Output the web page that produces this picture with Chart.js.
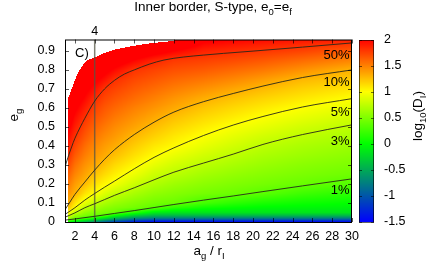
<!DOCTYPE html>
<html><head><meta charset="utf-8">
<script src="https://cdn.jsdelivr.net/npm/chart.js@4.4.1/dist/chart.umd.min.js"></script>
<style>html,body{margin:0;padding:0;background:#fff;}#wrap{width:436px;height:273px;}</style>
</head><body><div id="wrap"><canvas id="c" width="436" height="273"></canvas></div>
<script>
// ---- tick labels ----
const xTicks = [2,4,6,8,10,12,14,16,18,20,22,24,26,28,30];
const yTicks = [0,0.1,0.2,0.3,0.4,0.5,0.6,0.7,0.8,0.9];
const cbTicks = [-1.5,-1,-0.5,0,0.5,1,1.5,2];
const markerX = [4];

// ---- heat map grid: log10(D_I) ----
const gridX = [1.33, 2, 3, 4, 5, 6, 8, 10, 12, 15, 18, 21, 25, 30];
const gridY = [0, 0.01, 0.02, 0.035, 0.05, 0.075, 0.1, 0.15, 0.2, 0.25, 0.3, 0.35, 0.4, 0.45, 0.5, 0.55, 0.6, 0.65, 0.7, 0.75, 0.8, 0.85, 0.9, 0.93, 0.96];
const logD_x1_33 = [0.0, 0.36, 0.63, 0.88, 1.04, 1.23, 1.33, 1.43, 1.53, 1.62, 1.72, 1.82, 1.89, 1.97, 2.05, 2.13, 2.2, 2.28, null, null, null, null, null, null, null];
const logD_x2  = [-0.2, 0.18, 0.44, 0.61, 0.77, 1.0, 1.11, 1.31, 1.39, 1.48, 1.56, 1.65, 1.73, 1.81, 1.89, 1.96, 2.04, 2.11, 2.18, 2.26, null, null, null, null, null];
const logD_x3  = [-0.45, -0.08, 0.29, 0.48, 0.58, 0.75, 0.91, 1.11, 1.27, 1.36, 1.43, 1.51, 1.58, 1.66, 1.73, 1.81, 1.89, 1.98, 2.06, 2.14, 2.23, null, null, null, null];
const logD_x4  = [-0.7, -0.3, 0.1, 0.43, 0.51, 0.64, 0.77, 1.0, 1.12, 1.24, 1.34, 1.41, 1.47, 1.54, 1.61, 1.68, 1.75, 1.83, 1.94, 2.05, 2.16, 2.27, null, null, null];
const logD_x5  = [-0.95, -0.55, -0.15, 0.34, 0.46, 0.56, 0.67, 0.87, 1.03, 1.14, 1.24, 1.33, 1.39, 1.46, 1.53, 1.6, 1.66, 1.73, 1.8, 1.94, 2.07, 2.21, null, null, null];
const logD_x6  = [-1.15, -0.75, -0.4, 0.05, 0.42, 0.51, 0.6, 0.78, 0.95, 1.06, 1.15, 1.25, 1.33, 1.4, 1.46, 1.53, 1.6, 1.67, 1.74, 1.82, 1.97, 2.13, 2.28, null, null];
const logD_x8  = [-1.4, -1.0, -0.65, -0.25, 0.15, 0.45, 0.52, 0.66, 0.8, 0.93, 1.03, 1.12, 1.2, 1.28, 1.36, 1.43, 1.5, 1.58, 1.65, 1.72, 1.8, 1.99, 2.19, null, null];
const logD_x10 = [-1.5, -1.1, -0.75, -0.4, -0.1, 0.36, 0.45, 0.57, 0.69, 0.8, 0.91, 1.01, 1.09, 1.18, 1.26, 1.34, 1.42, 1.5, 1.58, 1.66, 1.74, 1.86, 2.1, 2.25, null];
const logD_x12 = [-1.5, -1.1, -0.75, -0.4, -0.15, 0.18, 0.42, 0.52, 0.62, 0.73, 0.82, 0.92, 1.02, 1.09, 1.17, 1.25, 1.34, 1.42, 1.51, 1.6, 1.69, 1.78, 2.0, 2.17, null];
const logD_x15 = [-1.5, -1.1, -0.75, -0.4, -0.15, 0.06, 0.27, 0.46, 0.55, 0.64, 0.73, 0.82, 0.91, 0.99, 1.07, 1.15, 1.23, 1.32, 1.43, 1.54, 1.65, 1.75, 1.87, 1.96, 2.05];
const logD_x18 = [-1.5, -1.1, -0.75, -0.4, -0.15, 0.01, 0.17, 0.42, 0.5, 0.58, 0.66, 0.74, 0.82, 0.9, 0.98, 1.07, 1.15, 1.24, 1.35, 1.47, 1.59, 1.71, 1.83, 1.91, 2.0];
const logD_x21 = [-1.5, -1.1, -0.75, -0.4, -0.15, -0.03, 0.1, 0.35, 0.46, 0.53, 0.6, 0.67, 0.74, 0.82, 0.91, 0.99, 1.08, 1.17, 1.27, 1.39, 1.53, 1.66, 1.79, 1.87, 1.97];
const logD_x25 = [-1.5, -1.1, -0.75, -0.4, -0.15, -0.05, 0.05, 0.24, 0.41, 0.48, 0.54, 0.61, 0.67, 0.74, 0.82, 0.91, 0.99, 1.09, 1.18, 1.28, 1.43, 1.58, 1.74, 1.83, 1.93];
const logD_x30 = [-1.5, -1.1, -0.75, -0.4, -0.15, -0.07, 0.01, 0.16, 0.32, 0.43, 0.49, 0.55, 0.61, 0.67, 0.74, 0.82, 0.91, 1.0, 1.1, 1.21, 1.3, 1.48, 1.65, 1.76, 1.9];
const logD = [logD_x1_33, logD_x2, logD_x3, logD_x4, logD_x5, logD_x6, logD_x8, logD_x10, logD_x12, logD_x15, logD_x18, logD_x21, logD_x25, logD_x30];

// upper edge of the computed region (white above)
const edgeX = [1.33, 1.5, 1.67, 2.0, 2.3, 2.7, 3.2, 4.1, 5.0, 6.0, 7.8, 9.8, 11.9, 12.3];
const edgeY = [0.655, 0.675, 0.70, 0.745, 0.785, 0.818, 0.849, 0.868, 0.89, 0.907, 0.926, 0.941, 0.952, 0.96];

// ---- contour lines ----
const c50X = [1, 1.3, 1.67, 2, 2.55, 3, 4, 5, 6, 7, 8, 9.5, 11, 13, 15, 17, 20, 25, 30];
const c50Y = [0.29, 0.34, 0.395, 0.44, 0.5, 0.545, 0.636, 0.70, 0.745, 0.778, 0.80, 0.83, 0.852, 0.868, 0.878, 0.887, 0.899, 0.92, 0.942];
const c10X = [1, 1.5, 2, 3, 4, 5, 6, 8, 10, 12, 15, 18, 21, 25, 30];
const c10Y = [0.065, 0.105, 0.145, 0.21, 0.273, 0.33, 0.38, 0.46, 0.525, 0.578, 0.633, 0.676, 0.715, 0.76, 0.80];
const c5X = [1, 2, 3, 4, 5, 6, 8, 10, 12, 15, 18, 21, 25, 30];
const c5Y = [0.04, 0.075, 0.115, 0.15, 0.183, 0.215, 0.28, 0.34, 0.39, 0.455, 0.51, 0.555, 0.605, 0.649];
const c3X = [1, 2, 3, 4, 5, 6, 8, 10, 12, 15, 18, 21, 25, 30];
const c3Y = [0.025, 0.048, 0.075, 0.096, 0.118, 0.14, 0.18, 0.222, 0.262, 0.31, 0.357, 0.408, 0.46, 0.511];
const c1X = [1, 2, 4, 6, 8, 10, 12, 15, 18, 21, 25, 30];
const c1Y = [0.01, 0.016, 0.03, 0.045, 0.06, 0.076, 0.092, 0.115, 0.137, 0.16, 0.19, 0.227];
const pctLabels = ['50%', '10%', '5%', '3%', '1%'];
const pctLabelY = [0.878, 0.735, 0.578, 0.426, 0.168];
const pctLabelX = 29.75;

// ---- palette ----
const cbStops = [-1.5, 0, 1, 2];
const cbColors = [[0,0,255],[0,255,0],[255,255,0],[255,0,0]];
const FILL = 2.3;

function palette(v){
  if (v <= cbStops[0]) return cbColors[0];
  if (v >= cbStops[cbStops.length-1]) return cbColors[cbColors.length-1];
  let k = 0; while (v > cbStops[k+1]) k++;
  const t = (v - cbStops[k]) / (cbStops[k+1] - cbStops[k]);
  const a = cbColors[k], b = cbColors[k+1];
  return [a[0]+(b[0]-a[0])*t, a[1]+(b[1]-a[1])*t, a[2]+(b[2]-a[2])*t];
}
function findIdx(arr, v){ let i = 0; while (i < arr.length-2 && v > arr[i+1]) i++; return i; }
function sample(xv, yv){
  const i = findIdx(gridX, xv), j = findIdx(gridY, yv);
  let tx = (xv-gridX[i])/(gridX[i+1]-gridX[i]); tx = Math.max(0, Math.min(1, tx));
  let ty = (yv-gridY[j])/(gridY[j+1]-gridY[j]); ty = Math.max(0, Math.min(1, ty));
  const g = (a, b) => { const v = logD[a][b]; return v == null ? FILL : v; };
  return (g(i,j)*(1-tx)+g(i+1,j)*tx)*(1-ty) + (g(i,j+1)*(1-tx)+g(i+1,j+1)*tx)*ty;
}
function edgeAt(xv){
  if (xv >= edgeX[edgeX.length-1]) return Infinity;
  const k = findIdx(edgeX, xv);
  const t = (xv-edgeX[k])/(edgeX[k+1]-edgeX[k]);
  return edgeY[k] + (edgeY[k+1]-edgeY[k])*t;
}

const FONT = '"Liberation Sans", Arial, Helvetica, sans-serif';
const BIG = 13.5, SUB = 9.5;
function richWidth(ctx, parts){
  let w = 0;
  for (const [t, sub] of parts){ ctx.font = (sub ? SUB : BIG) + 'px ' + FONT; w += ctx.measureText(t).width; }
  return w;
}
function drawRich(ctx, parts, x, y, align){
  const w = richWidth(ctx, parts);
  let cx = align === 'center' ? x - w/2 : (align === 'right' ? x - w : x);
  ctx.textAlign = 'left'; ctx.textBaseline = 'alphabetic'; ctx.fillStyle = '#000';
  for (const [t, sub] of parts){
    ctx.font = (sub ? SUB : BIG) + 'px ' + FONT;
    ctx.fillText(t, cx, sub ? y + 4 : y);
    cx += ctx.measureText(t).width;
  }
}

const heatPlugin = {
  id: 'heat',
  beforeDatasetsDraw(chart){
    const {ctx, chartArea: a, scales: {x, y}} = chart;
    const L = Math.round(a.left), T = Math.round(a.top);
    const W = Math.round(a.right) - L, H = Math.round(a.bottom) - T;
    const off = document.createElement('canvas'); off.width = W; off.height = H;
    const octx = off.getContext('2d');
    const img = octx.createImageData(W, H);
    for (let py = 0; py < H; py++){
      const yv = Math.max(0, y.getValueForPixel(T + py + 0.5));
      for (let px = 0; px < W; px++){
        const xv = x.getValueForPixel(L + px + 0.5);
        if (xv < gridX[0] || yv > edgeAt(xv)) continue;
        const c = palette(sample(xv, yv));
        const o = (py*W + px)*4;
        img.data[o] = c[0]; img.data[o+1] = c[1]; img.data[o+2] = c[2]; img.data[o+3] = 255;
      }
    }
    octx.putImageData(img, 0, 0);
    ctx.drawImage(off, L, T);
  },
  afterDraw(chart){
    const {ctx, chartArea: a, scales: {x, y, cb}} = chart;
    ctx.save();
    // tick marks (inward, mirrored)
    ctx.strokeStyle = 'rgba(0,0,0,0.65)'; ctx.lineWidth = 1;
    ctx.beginPath();
    for (const v of xTicks){ const p = Math.round(x.getPixelForValue(v)) + 0.5;
      ctx.moveTo(p, a.bottom); ctx.lineTo(p, a.bottom-4); ctx.moveTo(p, a.top); ctx.lineTo(p, a.top+4); }
    for (const v of yTicks){ const p = Math.round(y.getPixelForValue(v)) + 0.5;
      ctx.moveTo(a.left, p); ctx.lineTo(a.left+4, p); ctx.moveTo(a.right, p); ctx.lineTo(a.right-4, p); }
    ctx.stroke();
    // frame
    ctx.strokeStyle = '#000';
    ctx.strokeRect(a.left + 0.5, a.top + 0.5, a.right - a.left - 1, a.bottom - a.top);
    // colour bar
    const bx = a.right + 7, bw = 15;
    const t0 = Math.round(cb.getPixelForValue(cbTicks[cbTicks.length-1])), b0 = Math.round(cb.getPixelForValue(cbTicks[0]));
    for (let py = t0; py < b0; py++){
      const c = palette(cb.getValueForPixel(py + 0.5));
      ctx.fillStyle = 'rgb(' + c.map(Math.round).join(',') + ')';
      ctx.fillRect(bx, py, bw, 1);
    }
    ctx.strokeStyle = 'rgba(0,0,0,0.55)';
    ctx.beginPath();
    for (const v of cbTicks){ const p = Math.round(cb.getPixelForValue(v)) + 0.5;
      ctx.moveTo(bx, p); ctx.lineTo(bx+3, p); ctx.moveTo(bx+bw, p); ctx.lineTo(bx+bw-3, p); }
    ctx.stroke();
    ctx.strokeStyle = 'rgba(0,0,0,0.6)';
    ctx.strokeRect(bx + 0.5, t0 + 0.5, bw - 1, b0 - t0);
    // texts
    ctx.font = '13px ' + FONT; ctx.fillStyle = '#000'; ctx.textBaseline = 'middle'; ctx.textAlign = 'right';
    pctLabels.forEach((t, k) => ctx.fillText(t, x.getPixelForValue(pctLabelX), y.getPixelForValue(pctLabelY[k])));
    ctx.textAlign = 'left';
    ctx.fillText('C)', a.left + 10, a.top + 13.5);
    drawRich(ctx, [['Inner border, S-type, e'], ['0', true], ['=e'], ['f', true]], 213, 10.5, 'center');
    drawRich(ctx, [['a'], ['g', true], [' / r'], ['I', true]], 209, 255, 'center');
    ctx.save(); ctx.translate(18, 115); ctx.rotate(-Math.PI/2);
    drawRich(ctx, [['e'], ['g', true]], 0, 0, 'center'); ctx.restore();
    ctx.save(); ctx.translate(422, 116); ctx.rotate(-Math.PI/2);
    drawRich(ctx, [['log'], ['10', true], ['(D'], ['I', true], [')']], 0, 0, 'center'); ctx.restore();
    ctx.restore();
  }
};

function mk(xs, ys){ return xs.map((v, i) => ({x: v, y: ys[i]})); }
const lineStyle = {showLine: true, pointRadius: 0, borderColor: 'rgba(40,40,25,0.9)', borderWidth: 1,
  tension: 0.4, cubicInterpolationMode: 'monotone', fill: false};

Chart.defaults.font.family = FONT;
Chart.defaults.font.size = 12.5;
Chart.defaults.color = '#000';

new Chart(document.getElementById('c'), {
  type: 'scatter',
  data: { datasets: [
    Object.assign({label: '50%', data: mk(c50X, c50Y)}, lineStyle),
    Object.assign({label: '10%', data: mk(c10X, c10Y)}, lineStyle),
    Object.assign({label: '5%', data: mk(c5X, c5Y)}, lineStyle),
    Object.assign({label: '3%', data: mk(c3X, c3Y)}, lineStyle),
    Object.assign({label: '1%', data: mk(c1X, c1Y)}, lineStyle),
    {label: 'a=4', data: [{x: markerX[0], y: 0}, {x: markerX[0], y: 0.96}], showLine: true, pointRadius: 0,
     borderColor: 'rgba(85,85,70,0.75)', borderWidth: 1.5}
  ]},
  options: {
    responsive: false, animation: false, devicePixelRatio: 1,
    layout: {padding: 0},
    plugins: {legend: {display: false}, tooltip: {enabled: false}, title: {display: false}},
    scales: {
      x: {type: 'linear', position: 'bottom', min: 1, max: 30,
          afterBuildTicks: s => { s.ticks = xTicks.map(v => ({value: v})); },
          afterFit: s => { s.height = 51; },
          ticks: {padding: 7, maxRotation: 0, autoSkip: false, callback: v => String(v)},
          grid: {display: false, drawTicks: false}, border: {display: false}},
      x2: {type: 'linear', axis: 'x', position: 'top', min: 1, max: 30,
          afterBuildTicks: s => { s.ticks = markerX.map(v => ({value: v})); },
          afterFit: s => { s.height = 14; },
          ticks: {padding: 0, maxRotation: 0, autoSkip: false, callback: v => String(v)},
          grid: {display: false, drawTicks: false}, border: {display: false}},
      y: {type: 'linear', position: 'left', min: 0, max: 0.96,
          afterBuildTicks: s => { s.ticks = yTicks.map(v => ({value: v})); },
          afterFit: s => { s.width = 65; },
          ticks: {padding: 10, autoSkip: false, callback: v => String(Number(v.toFixed(2)))},
          grid: {display: false, drawTicks: false}, border: {display: false}},
      cb: {type: 'linear', axis: 'y', position: 'right', min: -1.5, max: 2,
          afterBuildTicks: s => { s.ticks = cbTicks.map(v => ({value: v})); },
          afterFit: s => { s.width = 84; },
          ticks: {padding: 32, autoSkip: false, callback: v => String(Number(v.toFixed(2)))},
          grid: {display: false, drawTicks: false}, border: {display: false}}
    }
  },
  plugins: [heatPlugin]
});
</script>
</body></html>
